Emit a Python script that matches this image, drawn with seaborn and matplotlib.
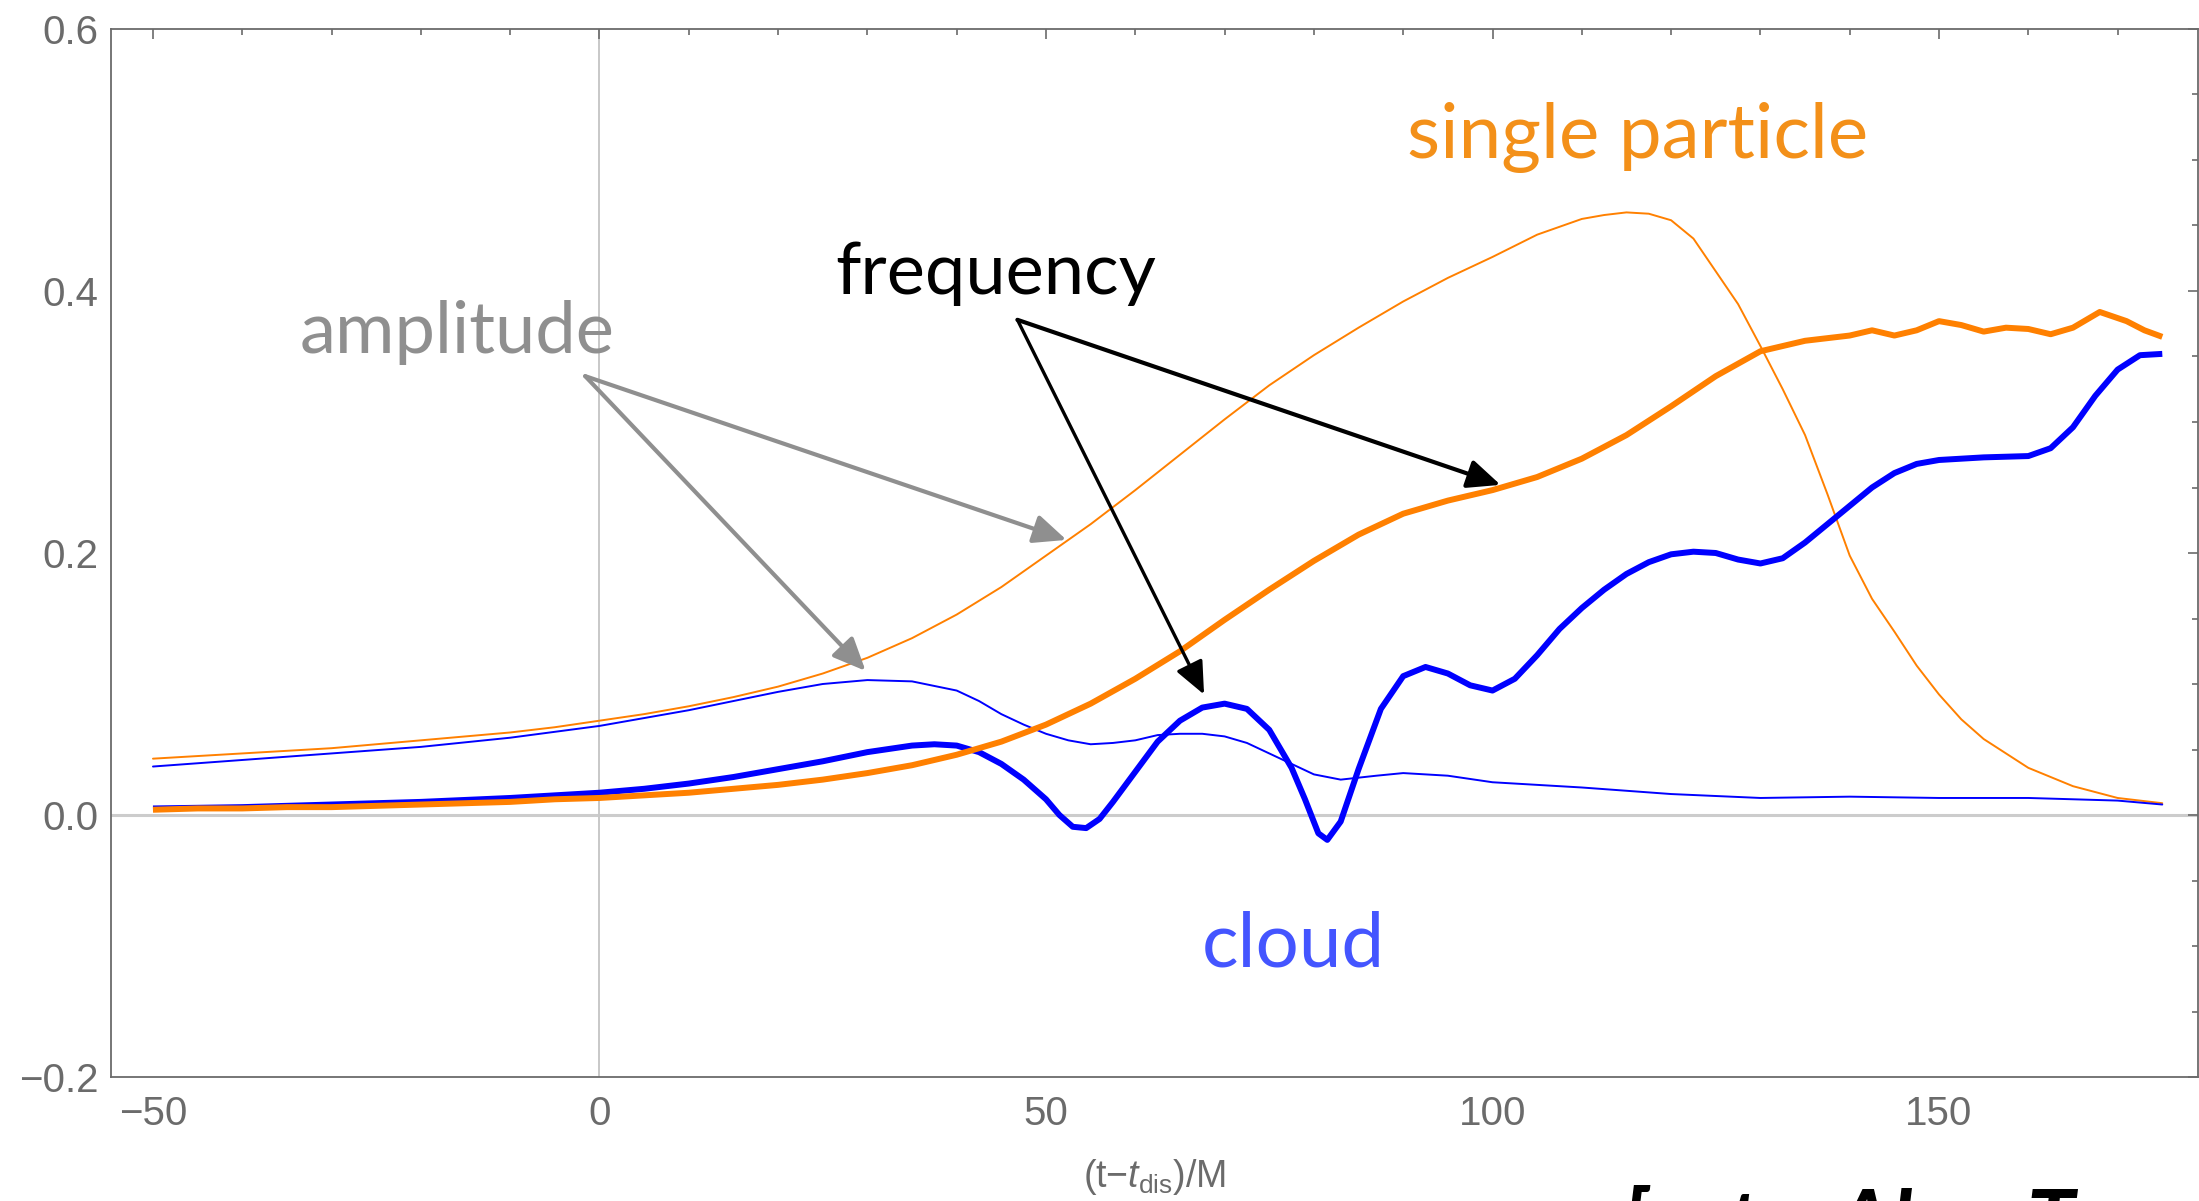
import numpy as np
import pandas as pd
import matplotlib
matplotlib.use("Agg")
import matplotlib.pyplot as plt
import seaborn as sns
from matplotlib.ticker import MultipleLocator, FixedLocator

# ---------------- data ----------------
sp_amp_x = [-50, -45, -40, -35, -30, -25, -20, -15, -10, -5, 0, 5, 10, 15, 20, 25, 30, 35, 40, 45,
            50, 55, 60, 65, 70, 75, 80, 85, 90, 95, 100, 105, 110, 112.5, 115, 117.5, 120, 122.5,
            125, 127.5, 130, 132.5, 135, 137.5, 140, 142.5, 145, 147.5, 150, 152.5, 155, 160, 165,
            170, 175]
sp_amp_y = [0.043, 0.045, 0.047, 0.049, 0.051, 0.054, 0.057, 0.060, 0.063, 0.067, 0.072, 0.077,
            0.083, 0.090, 0.098, 0.108, 0.120, 0.135, 0.153, 0.174, 0.198, 0.222, 0.248, 0.275,
            0.302, 0.328, 0.351, 0.372, 0.392, 0.410, 0.426, 0.443, 0.455, 0.458, 0.460, 0.459,
            0.454, 0.440, 0.415, 0.390, 0.358, 0.325, 0.290, 0.245, 0.198, 0.165, 0.140, 0.114,
            0.092, 0.073, 0.058, 0.036, 0.022, 0.013, 0.009]

sp_freq_x = [-50, -45, -40, -35, -30, -25, -20, -15, -10, -5, 0, 5, 10, 15, 20, 25, 30, 35, 40, 45,
             50, 55, 60, 65, 70, 75, 80, 85, 90, 95, 100, 105, 110, 115, 120, 125, 130, 135, 140,
             142.5, 145, 147.5, 150, 152.5, 155, 157.5, 160, 162.5, 165, 168, 171, 173, 175]
sp_freq_y = [0.004, 0.005, 0.005, 0.006, 0.006, 0.007, 0.008, 0.009, 0.010, 0.012, 0.013, 0.015,
             0.017, 0.020, 0.023, 0.027, 0.032, 0.038, 0.046, 0.056, 0.069, 0.085, 0.104, 0.125,
             0.149, 0.172, 0.194, 0.214, 0.230, 0.240, 0.248, 0.258, 0.272, 0.290, 0.312, 0.335,
             0.354, 0.362, 0.366, 0.370, 0.366, 0.370, 0.377, 0.374, 0.369, 0.372, 0.371, 0.367,
             0.372, 0.384, 0.377, 0.370, 0.365]

cl_freq_x = [-50, -40, -30, -20, -10, 0, 5, 10, 15, 20, 25, 30, 35, 37.5, 40, 42.5, 45, 47.5, 50,
             51.5, 53, 54.5, 56, 57.5, 60, 62.5, 65, 67.5, 70, 72.5, 75, 77.5, 79, 80.5, 81.5, 83,
             85, 87.5, 90, 92.5, 95, 97.5, 100, 102.5, 105, 107.5, 110, 112.5, 115, 117.5, 120,
             122.5, 125, 127.5, 130, 132.5, 135, 137.5, 140, 142.5, 145, 147.5, 150, 155, 160,
             162.5, 165, 167.5, 170, 172.5, 175]
cl_freq_y = [0.005, 0.006, 0.008, 0.010, 0.013, 0.017, 0.020, 0.024, 0.029, 0.035, 0.041, 0.048,
             0.053, 0.054, 0.053, 0.048, 0.039, 0.027, 0.012, 0.000, -0.009, -0.010, -0.003, 0.010,
             0.033, 0.056, 0.072, 0.082, 0.085, 0.081, 0.065, 0.036, 0.012, -0.014, -0.019,
             -0.005, 0.035, 0.081, 0.106, 0.113, 0.108, 0.099, 0.095, 0.104, 0.122, 0.142, 0.158,
             0.172, 0.184, 0.193, 0.199, 0.201, 0.200, 0.195, 0.192, 0.196, 0.208, 0.222, 0.236,
             0.250, 0.261, 0.268, 0.271, 0.273, 0.274, 0.280, 0.296, 0.320, 0.340, 0.351, 0.352]

cl_amp_x = [-50, -40, -30, -20, -10, 0, 5, 10, 15, 20, 25, 30, 35, 40, 42.5, 45, 47.5, 50, 52.5,
            55, 57.5, 60, 62.5, 65, 67.5, 70, 72.5, 75, 77.5, 80, 83, 87, 90, 95, 100, 110, 120,
            130, 140, 150, 160, 170, 175]
cl_amp_y = [0.037, 0.042, 0.047, 0.052, 0.059, 0.068, 0.074, 0.080, 0.087, 0.094, 0.100, 0.103,
            0.102, 0.095, 0.087, 0.077, 0.069, 0.062, 0.057, 0.054, 0.055, 0.057, 0.061, 0.062,
            0.062, 0.060, 0.055, 0.047, 0.039, 0.031, 0.027, 0.030, 0.032, 0.030, 0.025, 0.021,
            0.016, 0.013, 0.014, 0.013, 0.013, 0.011, 0.008]

x_ticks = [-50, 0, 50, 100, 150]
y_ticks = [-0.2, 0.0, 0.2, 0.4, 0.6]
x_ticklabels = ["\u221250", "0", "50", "100", "150"]
y_ticklabels = ["\u22120.2", "0.0", "0.2", "0.4", "0.6"]

# ---------------- style ----------------
sns.set_theme(style="white")
plt.rcParams["font.family"] = ["Liberation Sans", "DejaVu Sans"]
plt.rcParams["mathtext.fontset"] = "custom"
plt.rcParams["mathtext.rm"] = "Liberation Sans"
plt.rcParams["mathtext.it"] = "Liberation Sans:italic"

ORANGE = "#FF8000"
BLUE = "#0000FF"
AXGRAY = "#6b6b6b"

fig = plt.figure(figsize=(21.99, 12.01), dpi=100)
ax = fig.add_axes([111 / 2199, 1 - 1077 / 1201, (2198 - 111) / 2199, (1077 - 29) / 1201])

ax.axhline(0, color="#cccccc", lw=2.2, zorder=0)
ax.axvline(0, color="#c8c8c8", lw=1.4, zorder=0)

def frame(x, y):
    return pd.DataFrame({"x": x, "y": y})

sns.lineplot(data=frame(sp_amp_x, sp_amp_y), x="x", y="y", ax=ax, color=ORANGE, lw=1.4,
             sort=False, estimator=None)
sns.lineplot(data=frame(cl_amp_x, cl_amp_y), x="x", y="y", ax=ax, color=BLUE, lw=1.4,
             sort=False, estimator=None)
sns.lineplot(data=frame(cl_freq_x, cl_freq_y), x="x", y="y", ax=ax, color=BLUE, lw=4.3,
             sort=False, estimator=None, solid_capstyle="butt", solid_joinstyle="round")
sns.lineplot(data=frame(sp_freq_x, sp_freq_y), x="x", y="y", ax=ax, color=ORANGE, lw=4.3,
             sort=False, estimator=None, solid_capstyle="butt", solid_joinstyle="round")

ax.set_xlim(-54.7, 179.0)
ax.set_ylim(-0.2, 0.6)
ax.xaxis.set_major_locator(FixedLocator(x_ticks))
ax.yaxis.set_major_locator(FixedLocator(y_ticks))
ax.set_xticklabels(x_ticklabels)
ax.set_yticklabels(y_ticklabels)
ax.xaxis.set_minor_locator(MultipleLocator(10))
ax.yaxis.set_minor_locator(MultipleLocator(0.05))
ax.tick_params(which="both", direction="in", top=True, right=True, color=AXGRAY,
               labelcolor=AXGRAY, labelsize=29, width=1.2)
ax.tick_params(axis="x", which="major", length=7.5, pad=13)
ax.tick_params(axis="y", which="major", length=7, pad=9)
ax.tick_params(which="minor", length=4.5)
for s in ax.spines.values():
    s.set_color(AXGRAY)
    s.set_linewidth(1.3)

ax.set_xlabel(r"(t$-$$\mathit{t}_{\rm dis}$)/M", fontsize=27, color=AXGRAY, labelpad=17)
ax.set_ylabel("")

# ---------------- annotations ----------------
LABEL_FONT = ["Lato", "DejaVu Sans"]
ax.text(116.3, 0.517, "single particle", color="#F39019", fontsize=55, family=LABEL_FONT,
        ha="center", va="center")
ax.text(44.4, 0.413, "frequency", color="black", fontsize=52, family=LABEL_FONT,
        ha="center", va="center")
ax.text(-16.0, 0.368, "amplitude", color="#8f8f8f", fontsize=52, family=LABEL_FONT,
        ha="center", va="center")
ax.text(77.7, -0.099, "cloud", color="#4455FF", fontsize=55, family=LABEL_FONT,
        ha="center", va="center")

gray_origin = (-1.6, 0.335)
for tip in [(52.3, 0.21), (29.8, 0.11)]:
    ax.annotate("", xy=tip, xytext=gray_origin,
                arrowprops=dict(arrowstyle="-|>,head_length=0.5,head_width=0.22",
                                color="#8f8f8f", lw=3.0, mutation_scale=40,
                                shrinkA=0, shrinkB=0))
black_origin = (46.8, 0.378)
for tip, lw in [((100.9, 0.252), 3.0), ((67.7, 0.092), 2.4)]:
    ax.annotate("", xy=tip, xytext=black_origin,
                arrowprops=dict(arrowstyle="-|>,head_length=0.5,head_width=0.22",
                                color="black", lw=lw, mutation_scale=40,
                                shrinkA=0, shrinkB=0))

# citation cut off by the bottom edge, as in the reference (only tall glyph tops show)
fig.text(1622 / 2199, 1 - 1252 / 1201, "[sat,   Al,     T", fontsize=62, color="black",
         family=LABEL_FONT, style="italic", weight="bold", ha="left", va="baseline")

fig.savefig("out.png", dpi=100)
